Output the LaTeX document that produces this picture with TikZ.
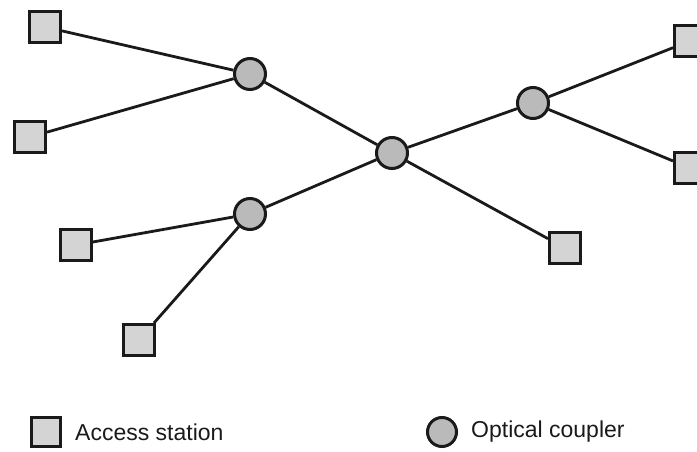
\documentclass[tikz,border=0pt]{standalone}
\usepackage{fontspec}
\setmainfont{Liberation Sans}
\definecolor{ink}{HTML}{1A1A1A}
\definecolor{stationfill}{HTML}{D4D4D4}
\definecolor{couplerfill}{HTML}{BABABA}
\usetikzlibrary{positioning}
\tikzset{
  station/.style={draw=ink, fill=stationfill, line width=3pt, minimum size=31pt, inner sep=0pt},
  coupler/.style={circle, draw=ink, fill=couplerfill, line width=3pt, minimum size=31pt, inner sep=0pt},
  fiber/.style={draw=ink, line width=2.8pt},
  legendtext/.style={font=\fontsize{23}{27}\selectfont, text=ink, anchor=west, inner sep=0pt},
}
\begin{document}
\begin{tikzpicture}[x=1pt,y=-1pt]
\useasboundingbox (0,0) rectangle (697,452);
% couplers
\node[coupler] (hub) at (392,153) {};
\node[coupler] (cnw) at (250,74) {};
\node[coupler] (cne) at (533,103) {};
\node[coupler] (csw) at (250,214) {};
% access stations
\node[station] (s1) at (45,27) {};
\node[station] (s2) at (30,137) {};
\node[station] (s3) at (690,41) {};
\node[station] (s4) at (690,168) {};
\node[station] (s5) at (565,248) {};
\node[station] (s6) at (76,245) {};
\node[station] (s7) at (139,340) {};
% fibre links
\draw[fiber] (hub)--(cnw) (hub)--(cne) (hub)--(csw) (hub)--(s5);
\draw[fiber] (cnw)--(s1) (cnw)--(s2);
\draw[fiber] (cne)--(s3) (cne)--(s4);
\draw[fiber] (csw)--(s6) (csw)--(s7);
% legend
\node[station,minimum size=29pt] (keystation) at (46,432) {};
\node[legendtext,right=13pt of keystation] (keystationtext) {Access station};
\node[coupler,minimum size=29pt] (keycoupler) at (442,432) {};
\node[legendtext,right=13pt of keycoupler] (keycouplertext) {Optical coupler};
\end{tikzpicture}
\end{document}
